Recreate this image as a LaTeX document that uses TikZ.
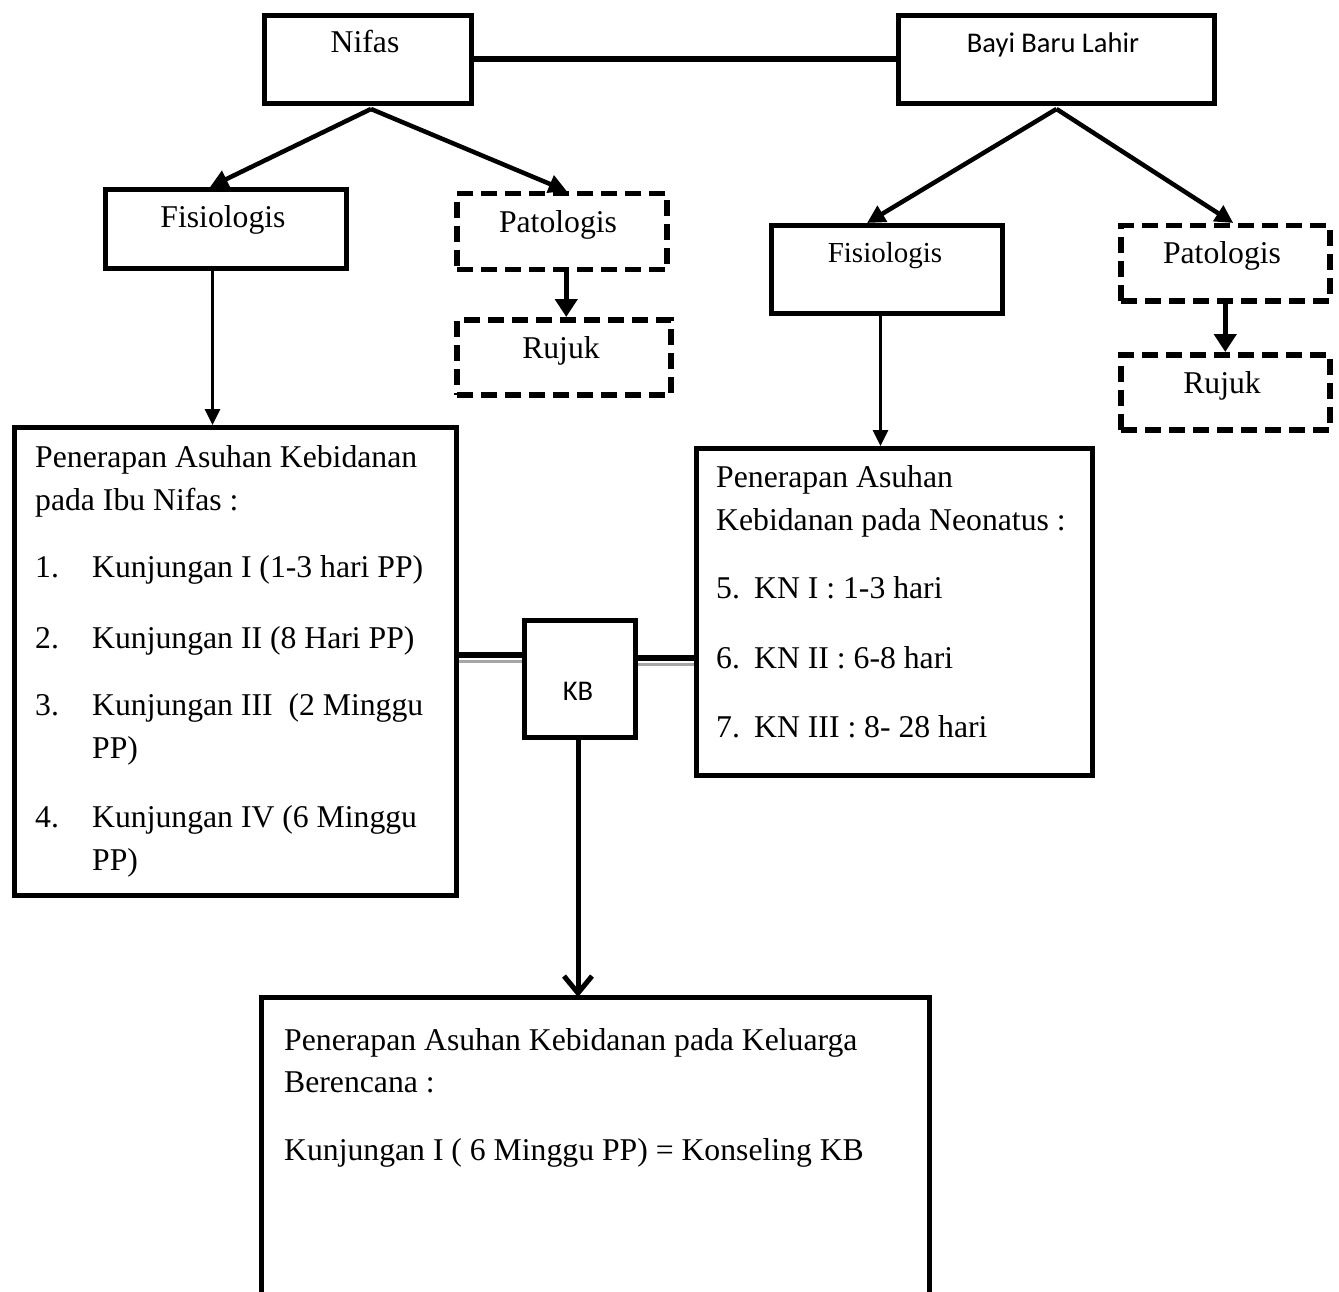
\documentclass[tikz,border=0pt]{standalone}
\usepackage{fontspec}
\setmainfont{Liberation Serif}
\newfontfamily\carl{Carlito}
\usetikzlibrary{arrows.meta}
\begin{document}
\begin{tikzpicture}[x=1pt,y=-1pt,
  box/.style={draw, line width=5pt, inner sep=0pt, anchor=north west},
  dbox/.style={draw, line width=5.5pt, dash pattern=on 16pt off 8pt, inner sep=0pt, anchor=north west},
  txt/.style={inner sep=0pt, anchor=base, font=\fontsize{31.7}{42}\selectfont},
  txtl/.style={txt, anchor=base west},
  stxt/.style={inner sep=0pt, anchor=base, font=\carl\fontsize{28.5}{34}\selectfont},
  arr/.style={line width=4.5pt, -{Triangle[length=18pt,width=18pt]}},
  varr/.style={line width=5pt, -{Triangle[length=18pt,width=22pt]}},
  link/.style={line width=5.5pt},
  shade/.style={line width=3pt, gray!70}
]
\useasboundingbox (0,0) rectangle (1339,1292);

% boxes
\node[box, minimum width=207, minimum height=88] (nifas) at (262,13) {};
\node[box, minimum width=316, minimum height=88] (bbl) at (896,13) {};
\node[box, minimum width=241, minimum height=79] (fisL) at (103,187) {};
\node[dbox, minimum width=210, minimum height=76] (patL) at (454,191) {};
\node[dbox, minimum width=214, minimum height=75] (rujL) at (454,317) {};
\node[box, minimum width=231, minimum height=88] (fisR) at (769,223) {};
\node[dbox, minimum width=209, minimum height=75] (patR) at (1118,223) {};
\node[dbox, minimum width=209, minimum height=75] (rujR) at (1118,352) {};
\node[box, minimum width=442, minimum height=468] (penL) at (12,425) {};
\node[box, minimum width=396, minimum height=327] (penN) at (694,446) {};
\node[box, minimum width=111, minimum height=117] (kb) at (522,618) {};
\node[inner sep=0pt, minimum width=668, minimum height=280, anchor=north west] (bot) at (261,997) {};
\coordinate (botend) at (0,1292);
\draw[line width=5pt] (bot.north west |- botend) -- (bot.north west) -- (bot.north east) -- (bot.north east |- botend);

% texts
\node[txt] (tNifas) at (365,53) {Nifas};
\node[stxt] (tBBL) at (1053,53) {Bayi Baru Lahir};
\node[txt] (tFisL) at (223,228) {Fisiologis};
\node[txt] (tPatL) at (558,233) {Patologis};
\node[txt] (tRujL) at (561,358) {Rujuk};
\node[txt, font=\fontsize{29}{36}\selectfont] (tFisR) at (885,262) {Fisiologis};
\node[txt] (tPatR) at (1222,263) {Patologis};
\node[txt] (tRujR) at (1222,393) {Rujuk};
\node[stxt] (tKB) at (578,700) {KB};

\node[txtl] (l1) at (35,467) {Penerapan Asuhan Kebidanan};
\node[txtl] (l2) at (35,510) {pada Ibu Nifas :};
\node[txtl] (n1) at (35,577) {1.};
\node[txtl] (k1) at (92,577) {Kunjungan I (1-3 hari PP)};
\node[txtl] (n2) at (35,648) {2.};
\node[txtl] (k2) at (92,648) {Kunjungan II (8 Hari PP)};
\node[txtl] (n3) at (35,715) {3.};
\node[txtl] (k3) at (92,715) {Kunjungan III\ \ (2 Minggu};
\node[txtl] (k3b) at (92,758) {PP)};
\node[txtl] (n4) at (35,827) {4.};
\node[txtl] (k4) at (92,827) {Kunjungan IV (6 Minggu};
\node[txtl] (k4b) at (92,870) {PP)};

\node[txtl] (m1) at (716,487) {Penerapan Asuhan};
\node[txtl] (m2) at (716,530) {Kebidanan pada Neonatus :};
\node[txtl] (m3n) at (716,598) {5.};
\node[txtl] (m3) at (754,598) {KN I : 1-3 hari};
\node[txtl] (m4n) at (716,668) {6.};
\node[txtl] (m4) at (754,668) {KN II : 6-8 hari};
\node[txtl] (m5n) at (716,737) {7.};
\node[txtl] (m5) at (754,737) {KN III : 8- 28 hari};

\node[txtl] (b1) at (284,1050) {Penerapan Asuhan Kebidanan pada Keluarga};
\node[txtl] (b2) at (284,1092) {Berencana :};
\node[txtl] (b3) at (284,1160) {Kunjungan I ( 6 Minggu PP) = Konseling KB};

% connectors
\draw[link] (nifas.east |- 0,59) -- (bbl.west |- 0,59);
\draw[arr] ([xshift=3pt,yshift=-3pt]nifas.south) -- ([xshift=-16pt]fisL.north);
\draw[arr] ([xshift=3pt,yshift=-3pt]nifas.south) -- ([xshift=5pt]patL.north);
\draw[arr] ([yshift=-3pt]bbl.south) -- ([xshift=-20pt]fisR.north);
\draw[arr] ([yshift=-3pt]bbl.south) -- ([xshift=8pt]patR.north);
\draw[varr] ([xshift=4.5pt]patL.south) -- ([xshift=4.5pt]patL.south |- rujL.north);
\draw[varr] (patR.south) -- (patR.south |- rujR.north);
\draw[line width=3pt, -{Triangle[length=16pt,width=15pt]}] ([xshift=-13.5pt]fisL.south) -- ([xshift=-13.5pt]fisL.south |- penL.north);
\draw[line width=3pt, -{Triangle[length=16pt,width=15pt]}] ([xshift=-6.5pt]fisR.south) -- ([xshift=-6.5pt]fisR.south |- penN.north);

\draw[shade] ([yshift=18pt]kb.west) -- ([yshift=18pt]kb.west -| penL.east);
\draw[link] ([yshift=24pt]kb.west) -- ([yshift=24pt]kb.west -| penL.east);
\draw[shade] ([yshift=15pt]kb.east) -- ([yshift=15pt]kb.east -| penN.west);
\draw[link] ([yshift=21pt]kb.east) -- ([yshift=21pt]kb.east -| penN.west);

\draw[line width=5pt, -{Straight Barb[length=17pt,width=28pt]}] ([xshift=-2pt]kb.south) -- ([xshift=-2pt]kb.south |- bot.north);
\end{tikzpicture}
\end{document}
